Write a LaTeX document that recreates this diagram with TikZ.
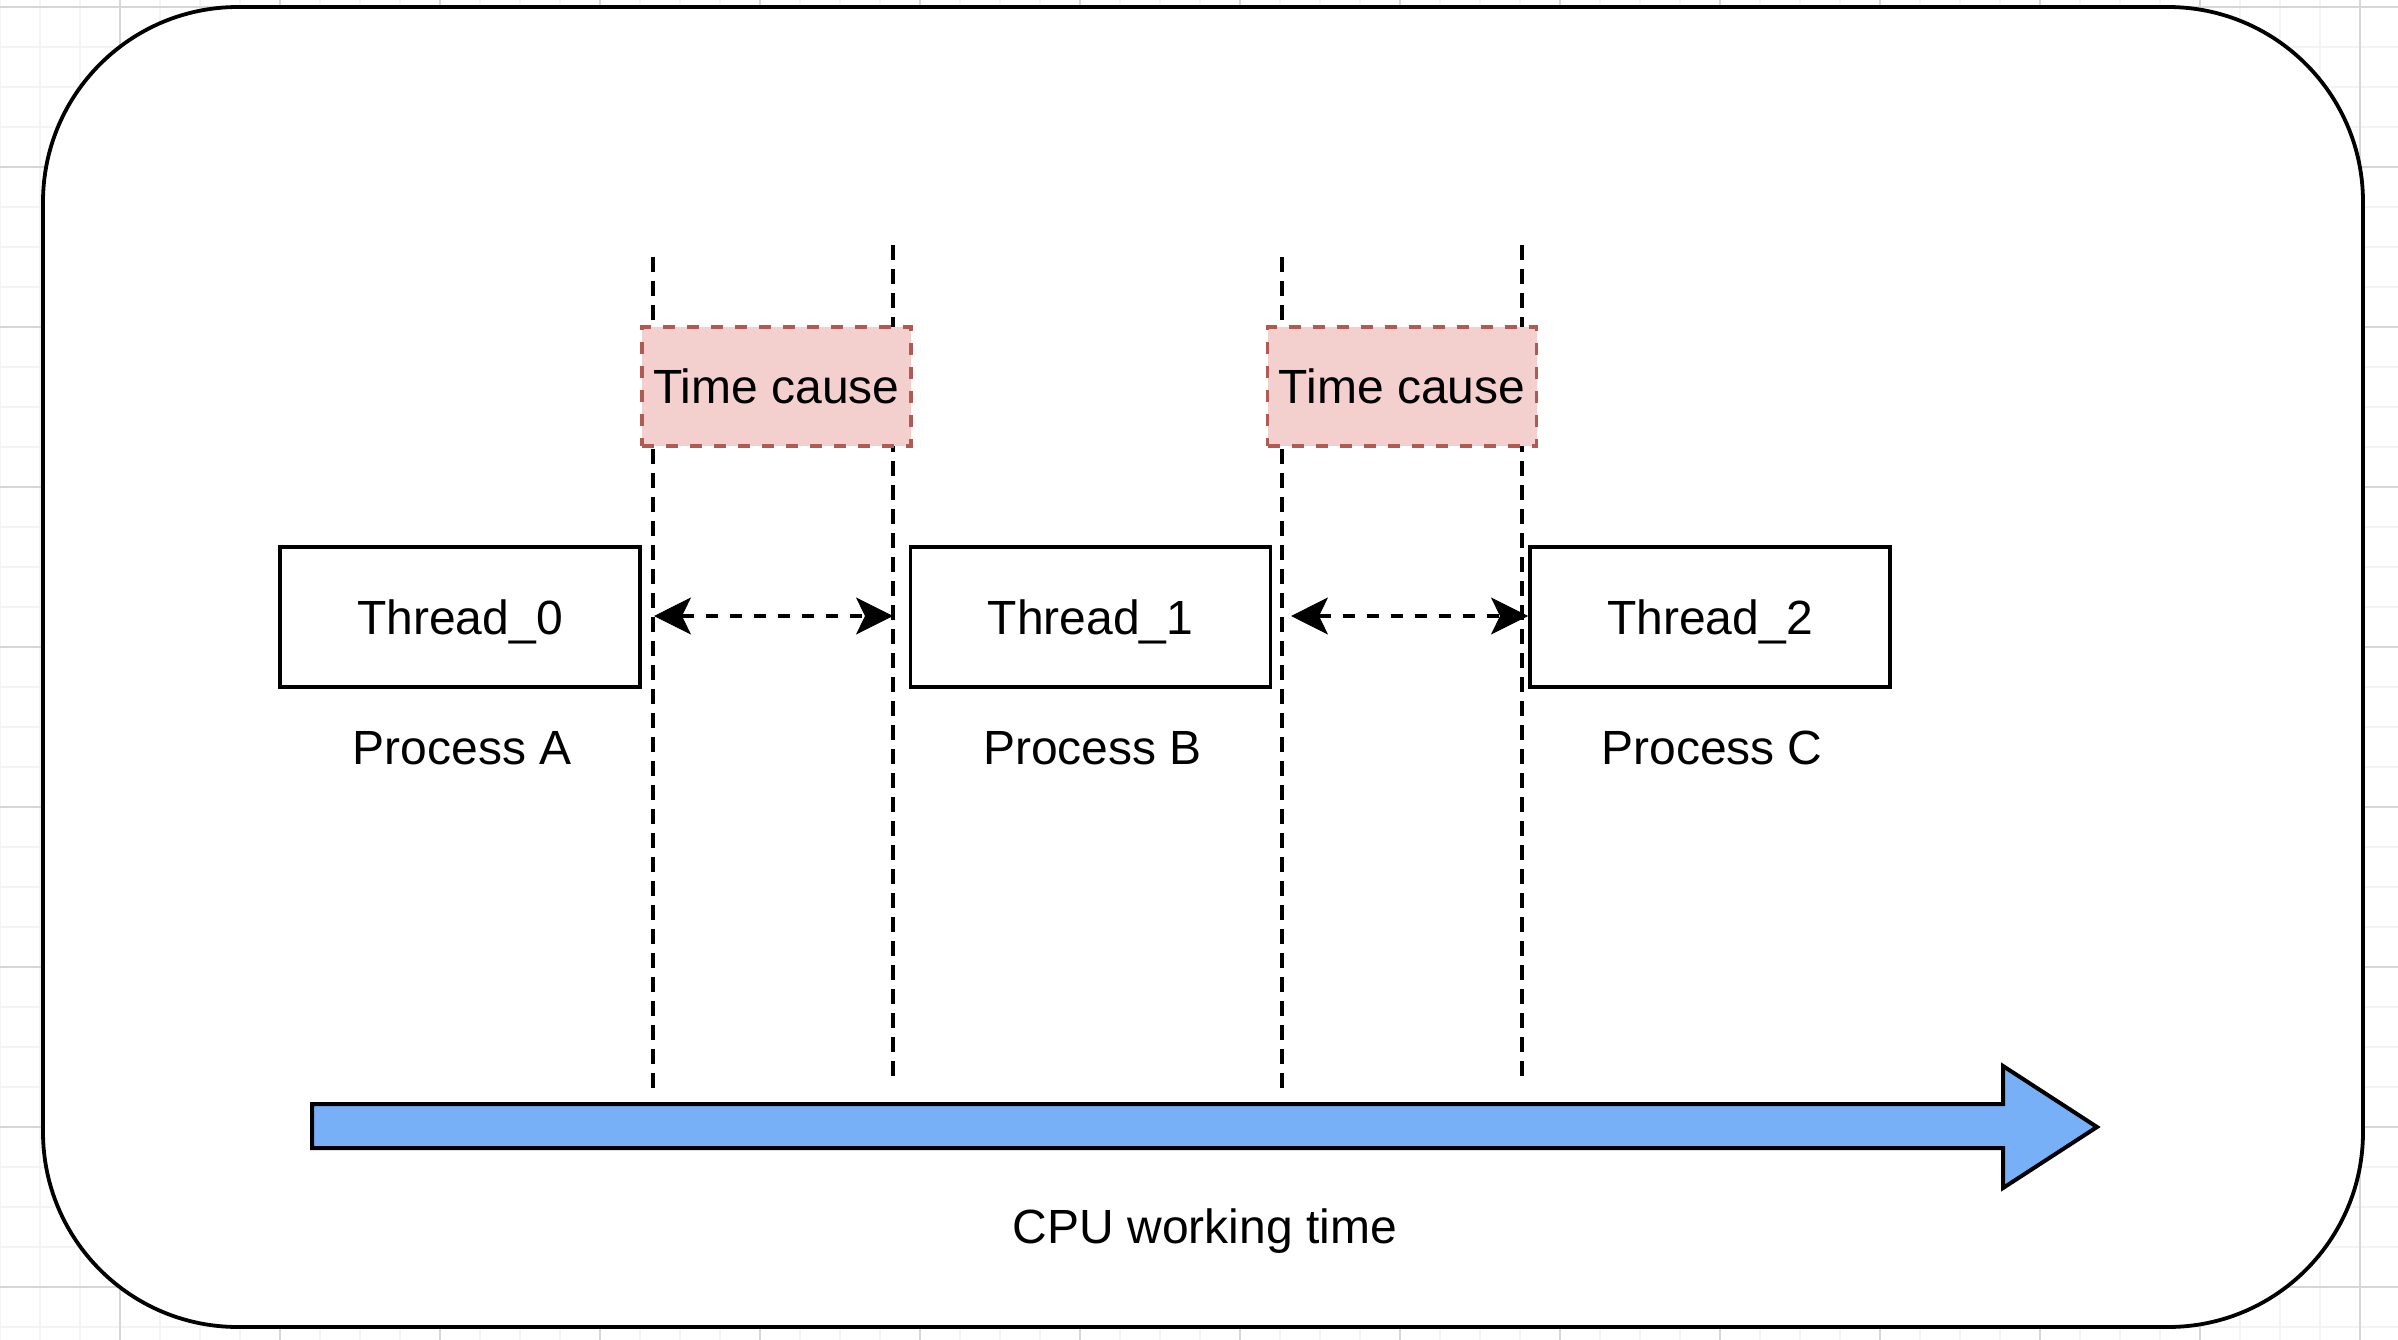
\documentclass[tikz,border=0pt]{standalone}
\usepackage{fontspec}
\setmainfont{Liberation Sans}
\usetikzlibrary{arrows.meta,positioning}
\definecolor{causefill}{RGB}{243,208,206}
\definecolor{causeline}{RGB}{176,90,82}
\definecolor{cpublue}{RGB}{120,176,248}
\definecolor{gridlight}{RGB}{243,243,243}
\definecolor{griddark}{RGB}{214,214,214}
\tikzset{
  txt/.style = {font=\fontsize{48}{57}\selectfont, inner sep=0pt,
    text depth=0pt},
  thrd/.style = {txt, rectangle, draw=black, fill=white, line width=3.5pt,
    minimum width=360pt, minimum height=140pt},% thread box
  cause_box/.style = {txt, rectangle, draw=causeline, fill=causefill,
    line width=3.6pt, dash pattern=on 12pt off 12pt,
    minimum width=269pt, minimum height=119pt},% switching time
  vline/.style = {line width=3.8pt, dash pattern=on 15pt off 9pt},
  sw_arrow/.style = {<->, line width=3.8pt, dash pattern=on 12pt off 12pt},
  cpu_arrow/.style = {draw=black, fill=cpublue, line width=4pt},
  frame/.style = {rectangle, draw=black, fill=white, line width=3.8pt,
    rounded corners=195pt, minimum width=2320pt, minimum height=1320pt},
  grid_mn/.style = {gridlight, line width=2pt},
  grid_mj/.style = {griddark, line width=2pt}
}

\begin{document}
\begin{tikzpicture}[x=1pt,y=-1pt,
  >={Stealth[length=37pt,width=37pt,inset=9pt,line width=1pt]}]
\useasboundingbox (0,0) rectangle (2398,1340);
% background grid
\foreach \gx in {0,40,...,2398} \draw[grid_mn] (\gx,0) -- (\gx,1340);
\foreach \gy in {7,47,...,1340} \draw[grid_mn] (0,\gy) -- (2398,\gy);
\foreach \gx in {120,280,...,2398} \draw[grid_mj] (\gx,0) -- (\gx,1340);
\foreach \gy in {7,167,...,1340} \draw[grid_mj] (0,\gy) -- (2398,\gy);

\node [frame] (frame) at (1203,667) {};

% switch borders
\coordinate (v1t) at (653,257);  \coordinate (v1b) at (653,1089);
\coordinate (v2t) at (893,245);  \coordinate (v2b) at (893,1077);
\coordinate (v3t) at (1282,257); \coordinate (v3b) at (1282,1089);
\coordinate (v4t) at (1522,245); \coordinate (v4b) at (1522,1077);
\foreach \v in {1,2,3,4} \draw[vline] (v\v t) -- (v\v b);

\node [cause_box] (c1) at (776.5,386.5) {Time cause};
\node [cause_box] (c2) at (1402,386.5) {Time cause};

% threads
\node [thrd] (t0) at (460,617) {Thread\_0};
\node [thrd] (t1) at (1090.5,617) {Thread\_1};
\node [thrd] (t2) at (1710,617) {Thread\_2};
\node [txt, anchor=base] (p0) at ([xshift=2pt,yshift=-76pt]t0.south) {Process A};
\node [txt, anchor=base] (p1) at ([xshift=2pt,yshift=-76pt]t1.south) {Process B};
\node [txt, anchor=base] (p2) at ([xshift=2pt,yshift=-76pt]t2.south) {Process C};

\coordinate (s1a) at (654,616);  \coordinate (s1b) at (893,616);
\coordinate (s2a) at (1291,616); \coordinate (s2b) at (1528,616);
\draw[sw_arrow] (s1a) -- (s1b);
\draw[sw_arrow] (s2a) -- (s2b);

% time axis
\draw[cpu_arrow] (312,1104) -- (2003,1104) -- (2003,1066) -- (2097,1127)
  -- (2003,1188) -- (2003,1148) -- (312,1148) -- cycle;
\node [txt, anchor=base] (cpu) at (1205,1243) {CPU working time};
\end{tikzpicture}
\end{document}
